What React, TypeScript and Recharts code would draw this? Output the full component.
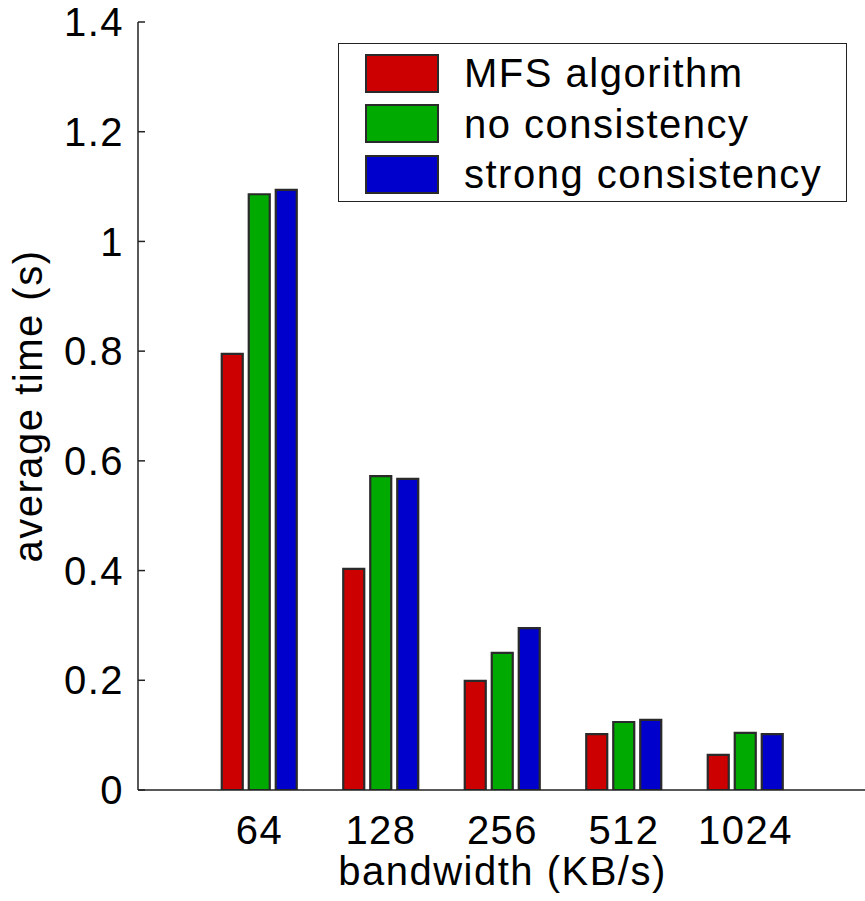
import { BarChart, Bar, XAxis, YAxis, Legend } from 'recharts';

const categories = ['64', '128', '256', '512', '1024'];
const mfsValues = [0.795, 0.403, 0.199, 0.102, 0.064];
const noConsistencyValues = [1.086, 0.572, 0.25, 0.124, 0.104];
const strongConsistencyValues = [1.094, 0.567, 0.295, 0.128, 0.102];
const yTicks = [0, 0.2, 0.4, 0.6, 0.8, 1, 1.2, 1.4];

const seriesNames = ['MFS algorithm', 'no consistency', 'strong consistency'];
const seriesColors = ['#cc0000', '#00aa00', '#0000cc'];

const FONT = '"Liberation Sans", Arial, Helvetica, sans-serif';
const AXIS = '#222';
const EDGE = '#2a2a2a';

const data = categories.map((c, i) => ({
  bw: c,
  mfs: mfsValues[i],
  none: noConsistencyValues[i],
  strong: strongConsistencyValues[i],
}));

const textStyle = { fontFamily: FONT, fontSize: 40, letterSpacing: 1.5, fill: '#000' };

// left ticks: label + inward tick mark
const LeftTick = (props: any) => {
  const { x, y, payload } = props;
  const axisX = x + 14;
  return (
    <g>
      <line x1={axisX} x2={axisX + 7} y1={y} y2={y} stroke={AXIS} strokeWidth={1.5} />
      <text x={x} y={y} dy="0.355em" textAnchor="end" style={textStyle}>
        {payload.value}
      </text>
    </g>
  );
};

const BottomTick = (props: any) => {
  const { x, y, payload } = props;
  return (
    <text x={x} y={y} dy="0.71em" textAnchor="middle" style={textStyle}>
      {payload.value}
    </text>
  );
};

const TopTick = (props: any) => {
  const { x, y } = props;
  return <line x1={x} x2={x} y1={y} y2={y + 7} stroke={AXIS} strokeWidth={1.5} />;
};

const RightTick = (props: any) => {
  const { x, y } = props;
  return <line x1={x - 7} x2={x} y1={y} y2={y} stroke={AXIS} strokeWidth={1.5} />;
};

const renderLegend = () => (
  <div
    style={{
      border: `1.5px solid ${AXIS}`,
      background: '#fff',
      boxSizing: 'border-box',
      width: 509,
      height: 159,
      paddingTop: 4,
      paddingLeft: 26,
    }}
  >
    {seriesNames.map((name, i) => (
      <div key={name} style={{ display: 'flex', alignItems: 'center', height: 50.5 }}>
        <div
          style={{
            width: 74,
            height: 39,
            boxSizing: 'border-box',
            border: `2px solid ${EDGE}`,
            background: seriesColors[i],
          }}
        />
        <span
          style={{
            marginLeft: 25,
            fontFamily: FONT,
            fontSize: 40,
            letterSpacing: 1.5,
            color: '#000',
            lineHeight: '40px',
          }}
        >
          {name}
        </span>
      </div>
    ))}
  </div>
);

export default function App() {
  return (
    <div
      style={{
        position: 'absolute',
        left: 0,
        top: 0,
        width: 865,
        height: 901,
        overflow: 'hidden',
        background: '#fff',
      }}
    >
      <BarChart
        width={880}
        height={901}
        data={data}
        margin={{ top: 22, right: 13, bottom: 0, left: 0 }}
        barSize={21}
        barGap={6}
      >
        <XAxis
          dataKey="bw"
          height={111}
          padding={{ left: 60.75, right: 60.75 }}
          axisLine={{ stroke: AXIS, strokeWidth: 1.5 }}
          tickLine={false}
          tickSize={0}
          tickMargin={26}
          tick={<BottomTick />}
          interval={0}
          label={{
            value: 'bandwidth (KB/s)',
            position: 'insideBottom',
            offset: 16,
            style: { ...textStyle },
          }}
        />
        <XAxis
          xAxisId="top"
          dataKey="bw"
          orientation="top"
          height={0}
          padding={{ left: 60.75, right: 60.75 }}
          axisLine={{ stroke: AXIS, strokeWidth: 1.5 }}
          tickLine={false}
          tickSize={0}
          tickMargin={0}
          tick={<TopTick />}
          interval={0}
        />
        <YAxis
          width={138}
          domain={[0, 1.4]}
          ticks={yTicks}
          interval={0}
          allowDataOverflow
          axisLine={{ stroke: AXIS, strokeWidth: 1.5 }}
          tickLine={false}
          tickSize={0}
          tickMargin={14}
          tick={<LeftTick />}
          label={{
            value: 'average time (s)',
            content: (p: any) => {
              const vb = p.viewBox;
              const cy = vb.y + vb.height / 2;
              return (
                <text
                  x={42}
                  y={cy}
                  textAnchor="middle"
                  transform={`rotate(-90, 42, ${cy})`}
                  style={textStyle}
                >
                  average time (s)
                </text>
              );
            },
          }}
        />
        <YAxis
          yAxisId="right"
          orientation="right"
          width={0}
          domain={[0, 1.4]}
          ticks={yTicks}
          interval={0}
          allowDataOverflow
          axisLine={{ stroke: AXIS, strokeWidth: 1.5 }}
          tickLine={false}
          tickSize={0}
          tickMargin={0}
          tick={<RightTick />}
        />
        <Legend
          layout="horizontal"
          verticalAlign="middle"
          align="center"
          content={renderLegend}
          wrapperStyle={{ top: 43, left: 338, width: 509, height: 159 }}
        />
        <Bar dataKey="mfs" name={seriesNames[0]} fill={seriesColors[0]} stroke={EDGE} strokeWidth={2.2} isAnimationActive={false} />
        <Bar dataKey="none" name={seriesNames[1]} fill={seriesColors[1]} stroke={EDGE} strokeWidth={2.2} isAnimationActive={false} />
        <Bar dataKey="strong" name={seriesNames[2]} fill={seriesColors[2]} stroke={EDGE} strokeWidth={2.2} isAnimationActive={false} />
      </BarChart>
    </div>
  );
}
